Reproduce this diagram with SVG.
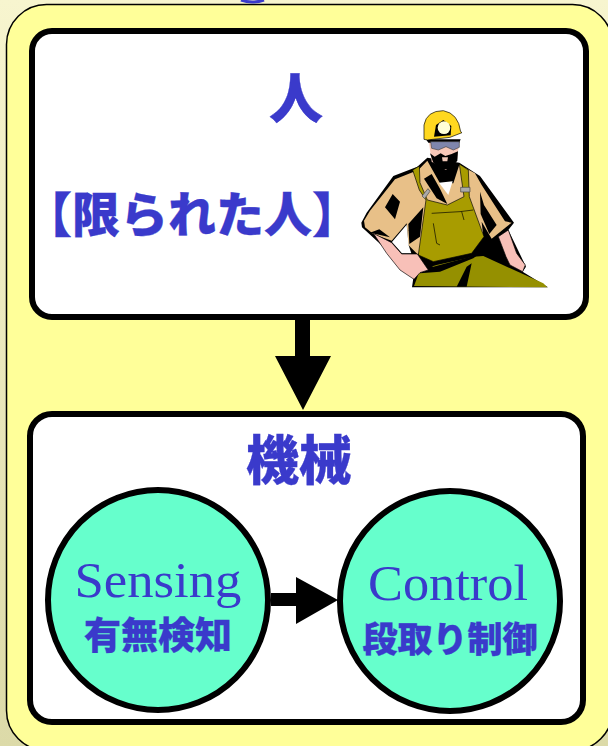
<svg xmlns="http://www.w3.org/2000/svg" width="608" height="746" viewBox="0 0 608 746">
<defs>
<linearGradient id="bg" x1="0" y1="0" x2="0" y2="1"><stop offset="0" stop-color="#f7f5cf"/><stop offset="1" stop-color="#dcdaa8"/></linearGradient>
</defs>
<style>
.box{fill:#fff;stroke:#000;stroke-width:6}
.circ{fill:#66ffcc;stroke:#000;stroke-width:6}
.cjk{font-family:"Noto Sans CJK JP","Noto Sans CJK SC",sans-serif;font-weight:900;fill:#3a3acb;stroke:#3a3acb;stroke-width:.3;text-anchor:middle}
.lat{font-family:"Liberation Serif",serif;fill:#3a3acb;text-anchor:middle;font-size:51px}
.k{fill:#000}
.skin{fill:#f8c0b8;stroke:#000;stroke-width:2}
.tan{fill:#e8c088}
</style>
<rect width="608" height="746" fill="url(#bg)"/>
<rect x="6.5" y="4.5" width="606" height="746" rx="40" fill="#ffff99" stroke="#000" stroke-width="1.5"/>
<path d="M241 0 Q252 4 264 0" fill="none" stroke="#3a3acb" stroke-width="3"/>
<g id="human">
<rect class="box" x="32" y="31" width="554" height="286" rx="20"/>
<text class="cjk" x="296" y="119" font-size="54">人</text>
<text class="cjk" x="192" y="232" font-size="48">【限られた人】</text>
<g id="worker" transform="translate(340 90) scale(.3333)">
<path class="k" d="M64 398L80 368L160 258L232 230L262 203L358 218L420 258L522 398L505 420L558 530L548 545L624 592H216L220 565L140 480L110 452L66 412Z"/>
<path class="tan" d="M72 392L90 362L165 268L235 240L262 212L300 280L340 280L358 224L405 250L425 285L495 394L515 398L455 446L425 395L430 440L232 492L205 465L200 400L155 452L100 432L75 412Z"/>
<path class="k" d="M135 352L158 312L180 335L165 388ZM252 266L275 252L300 296L322 342L290 325ZM420 305L432 345L470 405L448 432L422 372ZM90 428L150 442L118 418ZM205 402L250 352L240 440L208 462ZM205 420L240 405V415L210 432Z"/>
<path fill="#fff" d="M156 456L200 404L206 466L214 490H186Z"/>
<path fill="#fff" d="M297 278L338 274L325 315Z"/>
<path fill="#a89c00" stroke="#000" stroke-width="2" d="M218 240L238 228L240 278L262 330L322 345L372 320L358 222L385 240L388 320L432 440L395 490L280 515L235 495L258 330L238 300Z"/>
<path fill="none" stroke="#000" stroke-width="2" d="M275 370L360 365L400 360M280 400L290 460L300 465M365 365L372 390"/>
<path fill="#959000" d="M222 588L240 540L290 525L400 500L430 498L610 580L622 592Z"/>
<path class="k" d="M232 510L280 530L400 498L420 490L400 505L300 545L240 550ZM350 590L380 530L395 520L380 590Z"/>
<path class="skin" d="M100 430L155 458L185 492L232 492L265 540L240 548L222 568L180 540L140 490Z"/>
<path class="skin" d="M475 440L505 420L530 490L556 525L548 545L510 525L498 500Z"/>
<path fill="#f8c8b8" d="M266 150H358L352 205L318 240L275 215Z"/>
<path class="k" d="M270 190L284 200L302 190L316 198L335 192L354 184L352 212L330 238H300L280 218ZM258 148H362L358 158H265Z"/>
<path fill="#f0c8b8" d="M306 202H324L322 214H308Z"/>
<path fill="#7f86ad" stroke="#444" stroke-width="2" d="M272 155H358V172L340 180L318 170L295 180L275 175Z"/>
<path fill="#ffd820" stroke="#000" stroke-width="2" d="M252 148V105Q260 62 310 62Q355 70 362 125L366 128L330 142L262 150Z"/>
<path class="k" d="M282 140L288 105L310 90L334 108L332 136Z"/>
<circle cx="312" cy="113" r="19" fill="#ffffd8"/>
<path fill="#aaa" stroke="#444" stroke-width="2" d="M246 318L264 296L270 304L254 326ZM362 292H390V306H362Z"/>
</g>
</g>
<g id="machine">
<rect class="box" x="30" y="414" width="553" height="308" rx="22"/>
<text class="cjk" x="299" y="480" font-size="53">機械</text>
</g>
<g id="sensing">
<circle class="circ" cx="158" cy="600" r="110"/>
<text class="lat" x="158" y="597" textLength="167" lengthAdjust="spacingAndGlyphs">Sensing</text>
<text class="cjk" x="158" y="649" font-size="37">有無検知</text>
</g>
<g id="control">
<circle class="circ" cx="450" cy="601" r="110"/>
<text class="lat" x="448" y="600" textLength="160" lengthAdjust="spacingAndGlyphs">Control</text>
<text class="cjk" x="450" y="652" font-size="35">段取り制御</text>
</g>
<g id="connectors">
<path class="k" d="M295 319H310V356H331L303 410L275 356H295Z"/>
<path class="k" d="M271 593H296V577L338 600L296 624V606H271Z"/>
</g>
</svg>
